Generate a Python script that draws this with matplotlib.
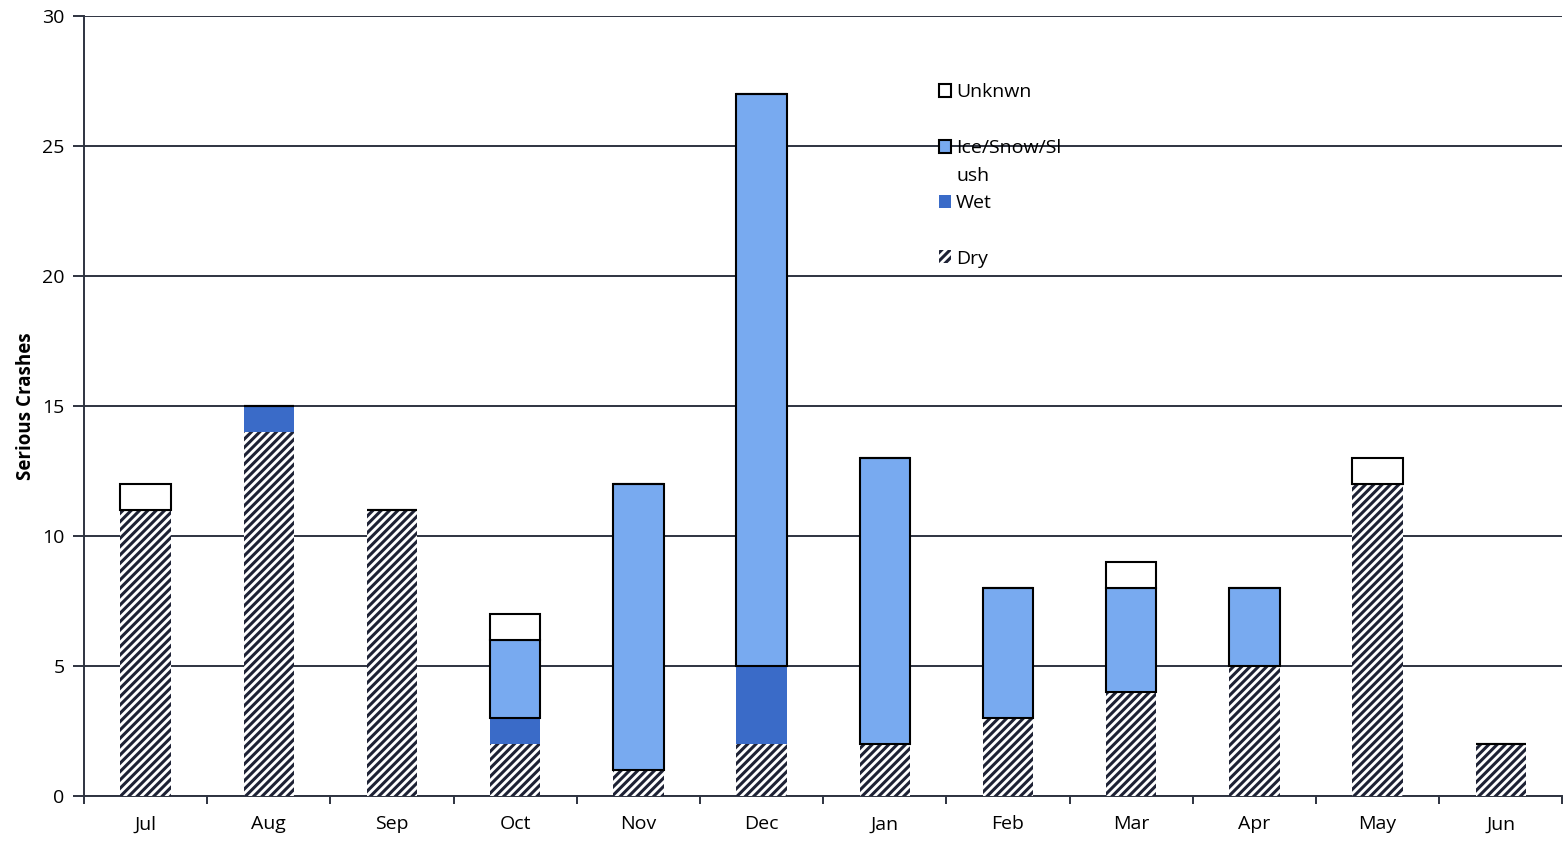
import matplotlib.pyplot as plt
import numpy as np
from matplotlib.patches import Patch

plt.rcParams['font.family'] = ['Open Sans', 'DejaVu Sans']
plt.rcParams['hatch.color'] = '#1e2235'
plt.rcParams['hatch.linewidth'] = 2.2

meses = ['Jul', 'Aug', 'Sep', 'Oct', 'Nov', 'Dec', 'Jan', 'Feb', 'Mar', 'Apr', 'May', 'Jun']
dry = [11, 14, 11, 2, 1, 2, 2, 3, 4, 5, 12, 2]
wet = [0, 1, 0, 1, 0, 3, 0, 0, 0, 0, 0, 0]
ice = [0, 0, 0, 3, 11, 22, 11, 5, 4, 3, 0, 0]
unknown = [1, 0, 0, 1, 0, 0, 0, 0, 1, 0, 1, 0]

x = np.arange(len(meses))
w = 0.41

fig = plt.figure(figsize=(15.64, 8.41), dpi=100)
ax = fig.add_axes([0.0537, 0.0535, 0.9453, 0.9275])

base = np.zeros(len(meses))
ax.bar(x, dry, w, bottom=base, color='white', hatch='////', edgecolor='#1e2235', linewidth=0, zorder=3)
base += dry
ax.bar(x, wet, w, bottom=base, color='#3a6bc8', linewidth=0, zorder=3)
base += wet
ax.bar(x, ice, w, bottom=base, color='#78aaf0', edgecolor='black', linewidth=1.5, zorder=3)
base += ice
ax.bar(x, unknown, w, bottom=base, color='white', edgecolor='black', linewidth=1.5, zorder=3)

ax.set_xlim(-0.5, 11.5)
ax.set_ylim(0, 30)
ax.set_yticks(range(0, 31, 5))
ax.yaxis.grid(True, color='#2e3340', linewidth=1.4, zorder=1)
ax.set_axisbelow(True)
ax.set_xticks(x)
ax.set_xticklabels(meses)
ax.set_xticks(np.arange(-0.5, 12, 1), minor=True)
ax.tick_params(axis='x', which='major', length=0, labelsize=14, pad=14)
ax.tick_params(axis='x', which='minor', length=6, width=1.4, color='#2e3340')
ax.tick_params(axis='y', length=8, width=1.4, color='#2e3340', labelsize=14, pad=6)
for s in ['top', 'right']:
    ax.spines[s].set_visible(False)
for s in ['left', 'bottom']:
    ax.spines[s].set_color('#2e3340')
    ax.spines[s].set_linewidth(1.4)

ax.set_ylabel('Serious Crashes', fontsize=13.5, fontweight='bold', labelpad=4)

# legenda com linhas vazias para imitar o espaçamento do Excel
vazio = Patch(facecolor='none', edgecolor='none')
handles = [
    Patch(facecolor='white', edgecolor='black', linewidth=1.5),
    vazio,
    Patch(facecolor='#78aaf0', edgecolor='black', linewidth=1.5),
    vazio,
    Patch(facecolor='#3a6bc8', linewidth=0),
    vazio,
    Patch(facecolor='white', hatch='////', edgecolor='#1e2235', linewidth=0),
]
labels = ['Unknwn', ' ', 'Ice/Snow/Sl', 'ush', 'Wet', ' ', 'Dry']
leg = ax.legend(handles, labels, loc='upper left', bbox_to_anchor=(0.5715, 0.926), frameon=False,
                fontsize=14, handlelength=0.65, handleheight=0.65, handletextpad=0.25,
                labelspacing=0.5, borderpad=0)
leg.set_zorder(0.5)

fig.savefig('out.png', dpi=100)
